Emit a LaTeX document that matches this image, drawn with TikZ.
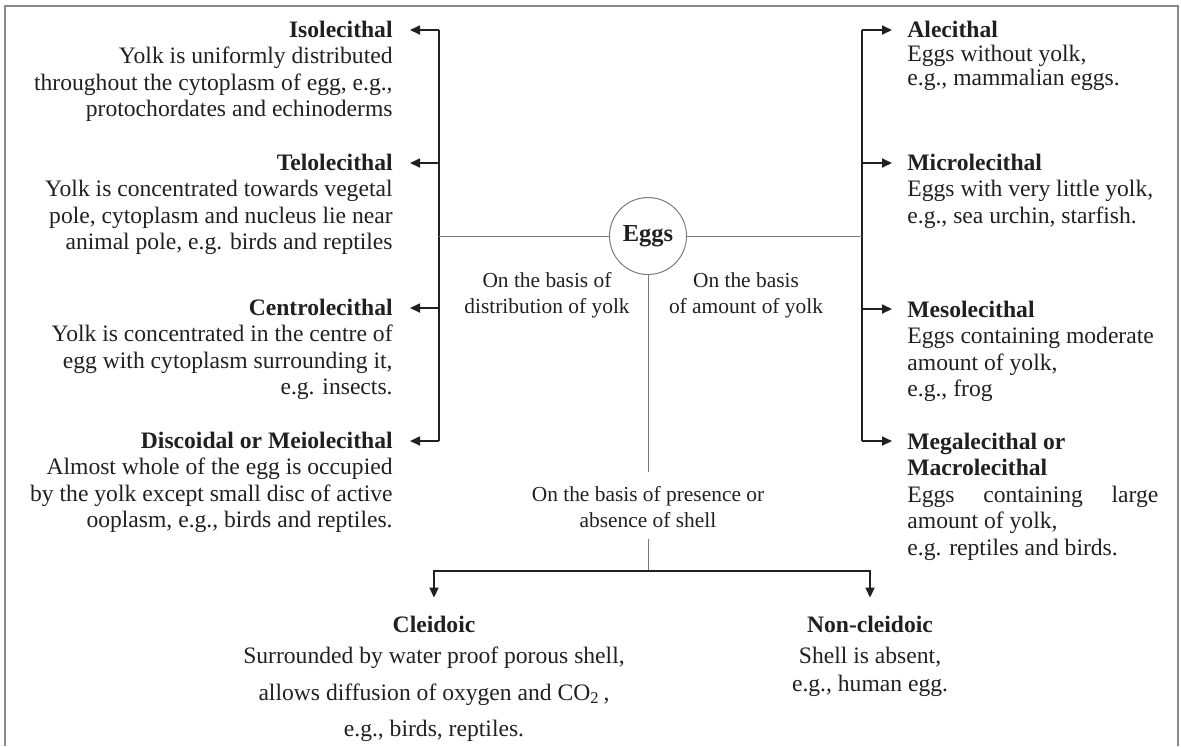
\documentclass[tikz,border=0pt]{standalone}
\usepackage{fontspec}
\setmainfont{Liberation Serif}
\usetikzlibrary{arrows.meta}
\definecolor{ink}{HTML}{231F20}
\definecolor{framec}{HTML}{8A8A8A}
\definecolor{thinc}{HTML}{7A7A7A}
\begin{document}
\begin{tikzpicture}[x=0.5pt,y=-0.5pt,
  txt/.style={font=\fontsize{11.8}{13.25}\selectfont, text=ink, inner sep=0pt},
  blkL/.style={txt, anchor=base east},
  blkR/.style={txt, anchor=base west},
  blkC/.style={txt, anchor=base},
  lbl/.style={font=\fontsize{10.7}{13}\selectfont, text=ink, inner sep=0pt, anchor=base},
  brk/.style={draw=ink, line width=0.85pt},
  arr/.style={draw=ink, line width=0.85pt, -{Triangle[length=5pt,width=4.5pt]}},
  thinl/.style={draw=thinc, line width=0.5pt},
  frm/.style={draw=framec, line width=0.8pt}]
\useasboundingbox (0,0) rectangle (1181,746);
\draw[frm] (5,746) -- (5,6) -- (1178,6) -- (1178,746);

% left blocks
\node[blkL] (iso) at (393,37) {\begin{tabular}[t]{@{}r@{}}\textbf{Isolecithal}\\ Yolk is uniformly distributed\\ throughout the cytoplasm of egg, e.g.,\\ protochordates and echinoderms\end{tabular}};
\node[blkL] (telo) at (393,170) {\begin{tabular}[t]{@{}r@{}}\textbf{Telolecithal}\\ Yolk is concentrated towards vegetal\\ pole, cytoplasm and nucleus lie near\\ animal pole, e.g. birds and reptiles\end{tabular}};
\node[blkL] (centro) at (393,315) {\begin{tabular}[t]{@{}r@{}}\textbf{Centrolecithal}\\ Yolk is concentrated in the centre of\\ egg with cytoplasm surrounding it,\\ e.g. insects.\end{tabular}};
\node[blkL] (disc) at (393,448) {\begin{tabular}[t]{@{}r@{}}\textbf{Discoidal or Meiolecithal}\\ Almost whole of the egg is occupied\\ by the yolk except small disc of active\\ ooplasm, e.g., birds and reptiles.\end{tabular}};

% right blocks
\node[blkR] (alec) at (907,37) {\begin{tabular}[t]{@{}l@{}}\textbf{Alecithal}\\[-1.25pt] Eggs without yolk,\\[-1.25pt] e.g., mammalian eggs.\end{tabular}};
\node[blkR] (micro) at (907,170) {\begin{tabular}[t]{@{}l@{}}\textbf{Microlecithal}\\ Eggs with very little yolk,\\ e.g., sea urchin, starfish.\end{tabular}};
\node[blkR] (meso) at (907,317) {\begin{tabular}[t]{@{}l@{}}\textbf{Mesolecithal}\\ Eggs containing moderate\\ amount of yolk,\\ e.g., frog\end{tabular}};
\node[blkR] (mega) at (907,449) {\begin{tabular}[t]{@{}l@{}}\textbf{Megalecithal or}\\ \textbf{Macrolecithal}\\ \makebox[125.5pt][s]{Eggs containing large}\\ amount of yolk,\\ e.g. reptiles and birds.\end{tabular}};

% centre
\node[circle, draw=thinc, line width=0.5pt, minimum size=38.5pt, inner sep=0pt, text=ink, font=\fontsize{12.2}{13.25}\selectfont\bfseries] (eggs) at (648,236) {Eggs};
\node[lbl] (bdist) at (547,287) {\begin{tabular}[t]{@{}c@{}}On the basis of\\ distribution of yolk\end{tabular}};
\node[lbl] (bamt) at (746,287) {\begin{tabular}[t]{@{}c@{}}On the basis\\ of amount of yolk\end{tabular}};
\node[lbl] (bshell) at (648,501) {\begin{tabular}[t]{@{}c@{}}On the basis of presence or\\ absence of shell\end{tabular}};

% bottom blocks
\node[blkC] (cl) at (434,632) {\begin{tabular}[t]{@{}c@{}}\textbf{Cleidoic}\\[2.25pt] Surrounded by water proof porous shell,\\[5.25pt] allows diffusion of oxygen and CO\textsubscript{2}\,,\\[4.75pt] e.g., birds, reptiles.\end{tabular}};
\node[blkC] (nc) at (870,632) {\begin{tabular}[t]{@{}c@{}}\textbf{Non-cleidoic}\\[2.25pt] Shell is absent,\\[0.75pt] e.g., human egg.\end{tabular}};

% brackets
\coordinate (L1) at (439,30);
\coordinate (L2) at (439,163);
\coordinate (L3) at (439,308);
\coordinate (L4) at (439,441);
\coordinate (R1) at (862,30);
\coordinate (R2) at (862,163);
\coordinate (R3) at (862,309);
\coordinate (R4) at (862,441);
\coordinate (J) at (648,571);

\draw[brk] (L1) -- (L4);
\draw[brk] (R1) -- (R4);
\draw[arr, shorten >=8.5pt] (L1) -- (L1 -| iso.east);
\draw[arr, shorten >=8.5pt] (L2) -- (L2 -| telo.east);
\draw[arr, shorten >=8.5pt] (L3) -- (L3 -| centro.east);
\draw[arr, shorten >=8.5pt] (L4) -- (L4 -| disc.east);
\draw[arr, shorten >=7.5pt] (R1) -- (R1 -| alec.west);
\draw[arr, shorten >=7.5pt] (R2) -- (R2 -| micro.west);
\draw[arr, shorten >=7.5pt] (R3) -- (R3 -| meso.west);
\draw[arr, shorten >=7.5pt] (R4) -- (R4 -| mega.west);

\draw[thinl] (eggs.west) -- (eggs.west -| L1);
\draw[thinl] (eggs.east) -- (eggs.east -| R1);
\draw[thinl, shorten >=5pt] (eggs.south) -- (bshell.north);
\draw[thinl, shorten <=2pt] (bshell.south) -- (J);
\draw[arr, shorten >=7.75pt] (J) -| (cl.north);
\draw[arr, shorten >=7.75pt] (J) -| (nc.north);
\end{tikzpicture}
\end{document}
